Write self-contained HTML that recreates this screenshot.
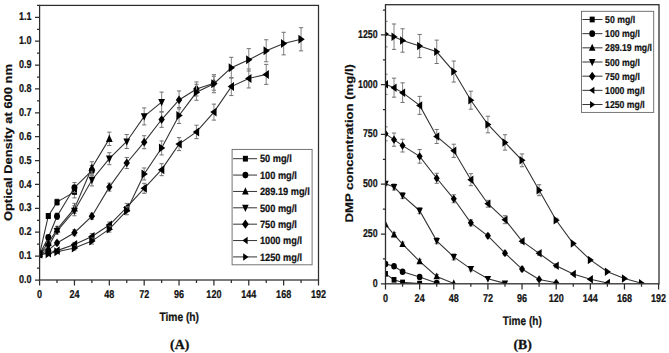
<!DOCTYPE html>
<html><head><meta charset="utf-8"><title>Chart</title>
<style>text{text-rendering:geometricPrecision;}html,body{margin:0;padding:0;background:#fff;width:669px;height:353px;overflow:hidden;}svg{display:block;}</style>
</head><body>
<svg width="669" height="353" viewBox="0 0 669 353">
<rect width="669" height="353" fill="#fff"/>
<defs><clipPath id="ca"><rect x="39.6" y="5.4" width="278.9" height="274.6"/></clipPath><clipPath id="cb"><rect x="385.5" y="4.7" width="273.1" height="279.1"/></clipPath></defs>
<g clip-path="url(#ca)">
<path d="M39.6 254.21 L48.32 216 L57.03 202.15 L74.46 191.88" stroke="#333" stroke-width="1.1" fill="none"/>
<path d="M48.32 214V218" stroke="#8e8e8e" stroke-width="1.1" fill="none"/><path d="M46.22 214H50.42M46.22 218H50.42" stroke="#707070" stroke-width="1" fill="none"/>
<path d="M57.03 199.15V205.15" stroke="#8e8e8e" stroke-width="1.1" fill="none"/><path d="M54.93 199.15H59.13M54.93 205.15H59.13" stroke="#707070" stroke-width="1" fill="none"/>
<path d="M74.46 185.88V197.88" stroke="#8e8e8e" stroke-width="1.1" fill="none"/><path d="M72.36 185.88H76.56M72.36 197.88H76.56" stroke="#707070" stroke-width="1" fill="none"/>
<rect x="37.03" y="251.26" width="5.13" height="5.9" fill="#000"/>
<rect x="45.75" y="213.05" width="5.13" height="5.9" fill="#000"/>
<rect x="54.46" y="199.2" width="5.13" height="5.9" fill="#000"/>
<rect x="71.9" y="188.93" width="5.13" height="5.9" fill="#000"/>
<path d="M39.6 254.21 L48.32 237.49 L57.03 216.24 L74.46 187.58 L91.89 170.63" stroke="#333" stroke-width="1.1" fill="none"/>
<path d="M48.32 235.49V239.49" stroke="#8e8e8e" stroke-width="1.1" fill="none"/><path d="M46.22 235.49H50.42M46.22 239.49H50.42" stroke="#707070" stroke-width="1" fill="none"/>
<path d="M57.03 213.24V219.24" stroke="#8e8e8e" stroke-width="1.1" fill="none"/><path d="M54.93 213.24H59.13M54.93 219.24H59.13" stroke="#707070" stroke-width="1" fill="none"/>
<path d="M74.46 182.58V192.58" stroke="#8e8e8e" stroke-width="1.1" fill="none"/><path d="M72.36 182.58H76.56M72.36 192.58H76.56" stroke="#707070" stroke-width="1" fill="none"/>
<path d="M91.89 165.63V175.63" stroke="#8e8e8e" stroke-width="1.1" fill="none"/><path d="M89.79 165.63H93.99M89.79 175.63H93.99" stroke="#707070" stroke-width="1" fill="none"/>
<ellipse cx="39.6" cy="254.21" rx="2.98" ry="3.42" fill="#000"/>
<ellipse cx="48.32" cy="237.49" rx="2.98" ry="3.42" fill="#000"/>
<ellipse cx="57.03" cy="216.24" rx="2.98" ry="3.42" fill="#000"/>
<ellipse cx="74.46" cy="187.58" rx="2.98" ry="3.42" fill="#000"/>
<ellipse cx="91.89" cy="170.63" rx="2.98" ry="3.42" fill="#000"/>
<path d="M39.6 254.21 L48.32 242.99 L57.03 229.37 L74.46 208.36 L91.89 167.76 L109.32 138.87" stroke="#333" stroke-width="1.1" fill="none"/>
<path d="M48.32 240.99V244.99" stroke="#8e8e8e" stroke-width="1.1" fill="none"/><path d="M46.22 240.99H50.42M46.22 244.99H50.42" stroke="#707070" stroke-width="1" fill="none"/>
<path d="M57.03 226.37V232.37" stroke="#8e8e8e" stroke-width="1.1" fill="none"/><path d="M54.93 226.37H59.13M54.93 232.37H59.13" stroke="#707070" stroke-width="1" fill="none"/>
<path d="M74.46 203.36V213.36" stroke="#8e8e8e" stroke-width="1.1" fill="none"/><path d="M72.36 203.36H76.56M72.36 213.36H76.56" stroke="#707070" stroke-width="1" fill="none"/>
<path d="M91.89 161.76V173.76" stroke="#8e8e8e" stroke-width="1.1" fill="none"/><path d="M89.79 161.76H93.99M89.79 173.76H93.99" stroke="#707070" stroke-width="1" fill="none"/>
<path d="M109.32 132.17V145.57" stroke="#8e8e8e" stroke-width="1.1" fill="none"/><path d="M107.22 132.17H111.42M107.22 145.57H111.42" stroke="#707070" stroke-width="1" fill="none"/>
<polygon points="39.6,249.96 42.99,257.28 36.21,257.28" fill="#000"/>
<polygon points="48.32,238.74 51.7,246.05 44.93,246.05" fill="#000"/>
<polygon points="57.03,225.13 60.42,232.44 53.64,232.44" fill="#000"/>
<polygon points="74.46,204.11 77.85,211.43 71.07,211.43" fill="#000"/>
<polygon points="91.89,163.52 95.28,170.83 88.51,170.83" fill="#000"/>
<polygon points="109.32,134.62 112.71,141.94 105.94,141.94" fill="#000"/>
<path d="M39.6 254.21 L48.32 246.57 L57.03 231.05 L74.46 210.75 L91.89 179.94 L109.32 158.69 L126.76 141.5 L144.19 116.42 L161.62 102.09" stroke="#333" stroke-width="1.1" fill="none"/>
<path d="M48.32 244.57V248.57" stroke="#8e8e8e" stroke-width="1.1" fill="none"/><path d="M46.22 244.57H50.42M46.22 248.57H50.42" stroke="#707070" stroke-width="1" fill="none"/>
<path d="M57.03 228.05V234.05" stroke="#8e8e8e" stroke-width="1.1" fill="none"/><path d="M54.93 228.05H59.13M54.93 234.05H59.13" stroke="#707070" stroke-width="1" fill="none"/>
<path d="M74.46 205.75V215.75" stroke="#8e8e8e" stroke-width="1.1" fill="none"/><path d="M72.36 205.75H76.56M72.36 215.75H76.56" stroke="#707070" stroke-width="1" fill="none"/>
<path d="M91.89 173.94V185.94" stroke="#8e8e8e" stroke-width="1.1" fill="none"/><path d="M89.79 173.94H93.99M89.79 185.94H93.99" stroke="#707070" stroke-width="1" fill="none"/>
<path d="M109.32 152.69V164.69" stroke="#8e8e8e" stroke-width="1.1" fill="none"/><path d="M107.22 152.69H111.42M107.22 164.69H111.42" stroke="#707070" stroke-width="1" fill="none"/>
<path d="M126.76 134.5V148.5" stroke="#8e8e8e" stroke-width="1.1" fill="none"/><path d="M124.66 134.5H128.86M124.66 148.5H128.86" stroke="#707070" stroke-width="1" fill="none"/>
<path d="M144.19 107.92V124.92" stroke="#8e8e8e" stroke-width="1.1" fill="none"/><path d="M142.09 107.92H146.29M142.09 124.92H146.29" stroke="#707070" stroke-width="1" fill="none"/>
<path d="M161.62 92.09V112.09" stroke="#8e8e8e" stroke-width="1.1" fill="none"/><path d="M159.52 92.09H163.72M159.52 112.09H163.72" stroke="#707070" stroke-width="1" fill="none"/>
<polygon points="39.6,258.46 42.99,251.14 36.21,251.14" fill="#000"/>
<polygon points="48.32,250.82 51.7,243.5 44.93,243.5" fill="#000"/>
<polygon points="57.03,235.29 60.42,227.98 53.64,227.98" fill="#000"/>
<polygon points="74.46,215 77.85,207.68 71.07,207.68" fill="#000"/>
<polygon points="91.89,184.19 95.28,176.87 88.51,176.87" fill="#000"/>
<polygon points="109.32,162.94 112.71,155.62 105.94,155.62" fill="#000"/>
<polygon points="126.76,145.74 130.14,138.43 123.37,138.43" fill="#000"/>
<polygon points="144.19,120.67 147.58,113.35 140.8,113.35" fill="#000"/>
<polygon points="161.62,106.34 165.01,99.03 158.23,99.03" fill="#000"/>
<path d="M39.6 254.21 L48.32 250.15 L57.03 242.99 L74.46 232.72 L91.89 216.24 L109.32 187.11 L126.76 162.99 L144.19 142.21 L161.62 119.53 L179.05 99.94 L196.48 88.96 L213.91 83.23" stroke="#333" stroke-width="1.1" fill="none"/>
<path d="M48.32 249.15V251.15" stroke="#8e8e8e" stroke-width="1.1" fill="none"/><path d="M46.22 249.15H50.42M46.22 251.15H50.42" stroke="#707070" stroke-width="1" fill="none"/>
<path d="M57.03 240.99V244.99" stroke="#8e8e8e" stroke-width="1.1" fill="none"/><path d="M54.93 240.99H59.13M54.93 244.99H59.13" stroke="#707070" stroke-width="1" fill="none"/>
<path d="M74.46 229.72V235.72" stroke="#8e8e8e" stroke-width="1.1" fill="none"/><path d="M72.36 229.72H76.56M72.36 235.72H76.56" stroke="#707070" stroke-width="1" fill="none"/>
<path d="M91.89 213.24V219.24" stroke="#8e8e8e" stroke-width="1.1" fill="none"/><path d="M89.79 213.24H93.99M89.79 219.24H93.99" stroke="#707070" stroke-width="1" fill="none"/>
<path d="M109.32 183.11V191.11" stroke="#8e8e8e" stroke-width="1.1" fill="none"/><path d="M107.22 183.11H111.42M107.22 191.11H111.42" stroke="#707070" stroke-width="1" fill="none"/>
<path d="M126.76 157.49V168.49" stroke="#8e8e8e" stroke-width="1.1" fill="none"/><path d="M124.66 157.49H128.86M124.66 168.49H128.86" stroke="#707070" stroke-width="1" fill="none"/>
<path d="M144.19 135.71V148.71" stroke="#8e8e8e" stroke-width="1.1" fill="none"/><path d="M142.09 135.71H146.29M142.09 148.71H146.29" stroke="#707070" stroke-width="1" fill="none"/>
<path d="M161.62 111.73V127.33" stroke="#8e8e8e" stroke-width="1.1" fill="none"/><path d="M159.52 111.73H163.72M159.52 127.33H163.72" stroke="#707070" stroke-width="1" fill="none"/>
<path d="M179.05 90.94V108.94" stroke="#8e8e8e" stroke-width="1.1" fill="none"/><path d="M176.95 90.94H181.15M176.95 108.94H181.15" stroke="#707070" stroke-width="1" fill="none"/>
<path d="M196.48 81.96V95.96" stroke="#8e8e8e" stroke-width="1.1" fill="none"/><path d="M194.38 81.96H198.58M194.38 95.96H198.58" stroke="#707070" stroke-width="1" fill="none"/>
<path d="M213.91 76.23V90.23" stroke="#8e8e8e" stroke-width="1.1" fill="none"/><path d="M211.81 76.23H216.01M211.81 90.23H216.01" stroke="#707070" stroke-width="1" fill="none"/>
<polygon points="39.6,249.84 42.78,254.21 39.6,258.58 36.42,254.21" fill="#000"/>
<polygon points="48.32,245.78 51.5,250.15 48.32,254.52 45.13,250.15" fill="#000"/>
<polygon points="57.03,238.62 60.21,242.99 57.03,247.35 53.85,242.99" fill="#000"/>
<polygon points="74.46,228.35 77.64,232.72 74.46,237.08 71.28,232.72" fill="#000"/>
<polygon points="91.89,211.87 95.08,216.24 91.89,220.61 88.71,216.24" fill="#000"/>
<polygon points="109.32,182.74 112.51,187.11 109.32,191.47 106.14,187.11" fill="#000"/>
<polygon points="126.76,158.62 129.94,162.99 126.76,167.35 123.57,162.99" fill="#000"/>
<polygon points="144.19,137.85 147.37,142.21 144.19,146.58 141.01,142.21" fill="#000"/>
<polygon points="161.62,115.16 164.8,119.53 161.62,123.89 158.44,119.53" fill="#000"/>
<polygon points="179.05,95.58 182.23,99.94 179.05,104.31 175.87,99.94" fill="#000"/>
<polygon points="196.48,84.59 199.66,88.96 196.48,93.33 193.3,88.96" fill="#000"/>
<polygon points="213.91,78.86 217.09,83.23 213.91,87.59 210.73,83.23" fill="#000"/>
<path d="M39.6 254.21 L48.32 253.02 L57.03 250.63 L74.46 244.42 L91.89 236.54 L109.32 225.08 L126.76 207.4 L144.19 188.3 L161.62 169.67 L179.05 144.12 L196.48 131.94 L213.91 112.12 L231.34 86.57 L248.77 78.45 L266.21 74.39" stroke="#333" stroke-width="1.1" fill="none"/>
<path d="M48.32 252.02V254.02" stroke="#8e8e8e" stroke-width="1.1" fill="none"/><path d="M46.22 252.02H50.42M46.22 254.02H50.42" stroke="#707070" stroke-width="1" fill="none"/>
<path d="M57.03 249.63V251.63" stroke="#8e8e8e" stroke-width="1.1" fill="none"/><path d="M54.93 249.63H59.13M54.93 251.63H59.13" stroke="#707070" stroke-width="1" fill="none"/>
<path d="M74.46 242.42V246.42" stroke="#8e8e8e" stroke-width="1.1" fill="none"/><path d="M72.36 242.42H76.56M72.36 246.42H76.56" stroke="#707070" stroke-width="1" fill="none"/>
<path d="M91.89 233.54V239.54" stroke="#8e8e8e" stroke-width="1.1" fill="none"/><path d="M89.79 233.54H93.99M89.79 239.54H93.99" stroke="#707070" stroke-width="1" fill="none"/>
<path d="M109.32 222.08V228.08" stroke="#8e8e8e" stroke-width="1.1" fill="none"/><path d="M107.22 222.08H111.42M107.22 228.08H111.42" stroke="#707070" stroke-width="1" fill="none"/>
<path d="M126.76 203.4V211.4" stroke="#8e8e8e" stroke-width="1.1" fill="none"/><path d="M124.66 203.4H128.86M124.66 211.4H128.86" stroke="#707070" stroke-width="1" fill="none"/>
<path d="M144.19 183.3V193.3" stroke="#8e8e8e" stroke-width="1.1" fill="none"/><path d="M142.09 183.3H146.29M142.09 193.3H146.29" stroke="#707070" stroke-width="1" fill="none"/>
<path d="M161.62 163.67V175.67" stroke="#8e8e8e" stroke-width="1.1" fill="none"/><path d="M159.52 163.67H163.72M159.52 175.67H163.72" stroke="#707070" stroke-width="1" fill="none"/>
<path d="M179.05 137.62V150.62" stroke="#8e8e8e" stroke-width="1.1" fill="none"/><path d="M176.95 137.62H181.15M176.95 150.62H181.15" stroke="#707070" stroke-width="1" fill="none"/>
<path d="M196.48 125.24V138.64" stroke="#8e8e8e" stroke-width="1.1" fill="none"/><path d="M194.38 125.24H198.58M194.38 138.64H198.58" stroke="#707070" stroke-width="1" fill="none"/>
<path d="M213.91 104.12V120.12" stroke="#8e8e8e" stroke-width="1.1" fill="none"/><path d="M211.81 104.12H216.01M211.81 120.12H216.01" stroke="#707070" stroke-width="1" fill="none"/>
<path d="M231.34 77.57V95.57" stroke="#8e8e8e" stroke-width="1.1" fill="none"/><path d="M229.24 77.57H233.44M229.24 95.57H233.44" stroke="#707070" stroke-width="1" fill="none"/>
<path d="M248.77 68.95V87.95" stroke="#8e8e8e" stroke-width="1.1" fill="none"/><path d="M246.67 68.95H250.87M246.67 87.95H250.87" stroke="#707070" stroke-width="1" fill="none"/>
<path d="M266.21 64.39V84.39" stroke="#8e8e8e" stroke-width="1.1" fill="none"/><path d="M264.11 64.39H268.31M264.11 84.39H268.31" stroke="#707070" stroke-width="1" fill="none"/>
<polygon points="35.9,254.21 42.27,249.73 42.27,258.69" fill="#000"/>
<polygon points="44.62,253.02 50.98,248.53 50.98,257.5" fill="#000"/>
<polygon points="53.34,250.63 59.7,246.14 59.7,255.11" fill="#000"/>
<polygon points="70.77,244.42 77.13,239.93 77.13,248.9" fill="#000"/>
<polygon points="88.2,236.54 94.56,232.05 94.56,241.02" fill="#000"/>
<polygon points="105.63,225.08 111.99,220.59 111.99,229.56" fill="#000"/>
<polygon points="123.06,207.4 129.43,202.92 129.43,211.89" fill="#000"/>
<polygon points="140.49,188.3 146.86,183.82 146.86,192.78" fill="#000"/>
<polygon points="157.92,169.67 164.29,165.19 164.29,174.16" fill="#000"/>
<polygon points="175.35,144.12 181.72,139.64 181.72,148.61" fill="#000"/>
<polygon points="192.79,131.94 199.15,127.46 199.15,136.43" fill="#000"/>
<polygon points="210.22,112.12 216.58,107.64 216.58,116.61" fill="#000"/>
<polygon points="227.65,86.57 234.01,82.09 234.01,91.06" fill="#000"/>
<polygon points="245.08,78.45 251.44,73.97 251.44,82.94" fill="#000"/>
<polygon points="262.51,74.39 268.88,69.91 268.88,78.88" fill="#000"/>
<path d="M39.6 254.21 L48.32 253.73 L57.03 251.82 L74.46 248 L91.89 241.08 L109.32 229.14 L126.76 210.75 L144.19 173.97 L161.62 147.94 L179.05 115.47 L196.48 92.3 L213.91 83.71 L231.34 67.71 L248.77 59.83 L266.21 50.75 L283.64 43.59 L301.07 39.29" stroke="#333" stroke-width="1.1" fill="none"/>
<path d="M48.32 252.73V254.73" stroke="#8e8e8e" stroke-width="1.1" fill="none"/><path d="M46.22 252.73H50.42M46.22 254.73H50.42" stroke="#707070" stroke-width="1" fill="none"/>
<path d="M57.03 250.82V252.82" stroke="#8e8e8e" stroke-width="1.1" fill="none"/><path d="M54.93 250.82H59.13M54.93 252.82H59.13" stroke="#707070" stroke-width="1" fill="none"/>
<path d="M74.46 246V250" stroke="#8e8e8e" stroke-width="1.1" fill="none"/><path d="M72.36 246H76.56M72.36 250H76.56" stroke="#707070" stroke-width="1" fill="none"/>
<path d="M91.89 238.08V244.08" stroke="#8e8e8e" stroke-width="1.1" fill="none"/><path d="M89.79 238.08H93.99M89.79 244.08H93.99" stroke="#707070" stroke-width="1" fill="none"/>
<path d="M109.32 226.14V232.14" stroke="#8e8e8e" stroke-width="1.1" fill="none"/><path d="M107.22 226.14H111.42M107.22 232.14H111.42" stroke="#707070" stroke-width="1" fill="none"/>
<path d="M126.76 206.75V214.75" stroke="#8e8e8e" stroke-width="1.1" fill="none"/><path d="M124.66 206.75H128.86M124.66 214.75H128.86" stroke="#707070" stroke-width="1" fill="none"/>
<path d="M144.19 167.97V179.97" stroke="#8e8e8e" stroke-width="1.1" fill="none"/><path d="M142.09 167.97H146.29M142.09 179.97H146.29" stroke="#707070" stroke-width="1" fill="none"/>
<path d="M161.62 140.94V154.94" stroke="#8e8e8e" stroke-width="1.1" fill="none"/><path d="M159.52 140.94H163.72M159.52 154.94H163.72" stroke="#707070" stroke-width="1" fill="none"/>
<path d="M179.05 107.47V123.47" stroke="#8e8e8e" stroke-width="1.1" fill="none"/><path d="M176.95 107.47H181.15M176.95 123.47H181.15" stroke="#707070" stroke-width="1" fill="none"/>
<path d="M196.48 84.3V100.3" stroke="#8e8e8e" stroke-width="1.1" fill="none"/><path d="M194.38 84.3H198.58M194.38 100.3H198.58" stroke="#707070" stroke-width="1" fill="none"/>
<path d="M213.91 74.71V92.71" stroke="#8e8e8e" stroke-width="1.1" fill="none"/><path d="M211.81 74.71H216.01M211.81 92.71H216.01" stroke="#707070" stroke-width="1" fill="none"/>
<path d="M231.34 57.31V78.11" stroke="#8e8e8e" stroke-width="1.1" fill="none"/><path d="M229.24 57.31H233.44M229.24 78.11H233.44" stroke="#707070" stroke-width="1" fill="none"/>
<path d="M248.77 48.63V71.03" stroke="#8e8e8e" stroke-width="1.1" fill="none"/><path d="M246.67 48.63H250.87M246.67 71.03H250.87" stroke="#707070" stroke-width="1" fill="none"/>
<path d="M266.21 39.75V61.75" stroke="#8e8e8e" stroke-width="1.1" fill="none"/><path d="M264.11 39.75H268.31M264.11 61.75H268.31" stroke="#707070" stroke-width="1" fill="none"/>
<path d="M283.64 32.29V54.89" stroke="#8e8e8e" stroke-width="1.1" fill="none"/><path d="M281.54 32.29H285.74M281.54 54.89H285.74" stroke="#707070" stroke-width="1" fill="none"/>
<path d="M301.07 27.69V50.89" stroke="#8e8e8e" stroke-width="1.1" fill="none"/><path d="M298.97 27.69H303.17M298.97 50.89H303.17" stroke="#707070" stroke-width="1" fill="none"/>
<polygon points="43.3,254.21 36.93,249.73 36.93,258.69" fill="#000"/>
<polygon points="52.01,253.73 45.65,249.25 45.65,258.22" fill="#000"/>
<polygon points="60.73,251.82 54.36,247.34 54.36,256.31" fill="#000"/>
<polygon points="78.16,248 71.79,243.52 71.79,252.48" fill="#000"/>
<polygon points="95.59,241.08 89.22,236.59 89.22,245.56" fill="#000"/>
<polygon points="113.02,229.14 106.66,224.65 106.66,233.62" fill="#000"/>
<polygon points="130.45,210.75 124.09,206.26 124.09,215.23" fill="#000"/>
<polygon points="147.88,173.97 141.52,169.49 141.52,178.46" fill="#000"/>
<polygon points="165.31,147.94 158.95,143.46 158.95,152.43" fill="#000"/>
<polygon points="182.75,115.47 176.38,110.98 176.38,119.95" fill="#000"/>
<polygon points="200.18,92.3 193.81,87.82 193.81,96.79" fill="#000"/>
<polygon points="217.61,83.71 211.24,79.22 211.24,88.19" fill="#000"/>
<polygon points="235.04,67.71 228.67,63.22 228.67,72.19" fill="#000"/>
<polygon points="252.47,59.83 246.11,55.34 246.11,64.31" fill="#000"/>
<polygon points="269.9,50.75 263.54,46.27 263.54,55.24" fill="#000"/>
<polygon points="287.33,43.59 280.97,39.1 280.97,48.07" fill="#000"/>
<polygon points="304.76,39.29 298.4,34.81 298.4,43.77" fill="#000"/>
</g>
<rect x="39.6" y="5.4" width="278.9" height="274.6" fill="none" stroke="#2e2e2e" stroke-width="1.25"/>
<path d="M35 280H39.6M37 268.06H39.6M35 256.12H39.6M37 244.18H39.6M35 232.24H39.6M37 220.3H39.6M35 208.36H39.6M37 196.42H39.6M35 184.48H39.6M37 172.54H39.6M35 160.6H39.6M37 148.66H39.6M35 136.72H39.6M37 124.78H39.6M35 112.84H39.6M37 100.9H39.6M35 88.96H39.6M37 77.02H39.6M35 65.08H39.6M37 53.14H39.6M35 41.2H39.6M37 29.26H39.6M35 17.32H39.6M37 5.38H39.6M39.6 280V285.5M57.03 280V283M74.46 280V285.5M91.89 280V283M109.32 280V285.5M126.76 280V283M144.19 280V285.5M161.62 280V283M179.05 280V285.5M196.48 280V283M213.91 280V285.5M231.34 280V283M248.77 280V285.5M266.21 280V283M283.64 280V285.5M301.07 280V283M318.5 280V285.5" stroke="#2e2e2e" stroke-width="1.25" fill="none"/>
<text transform="translate(31.6 283.1) scale(0.8 1)" font-size="11.3" text-anchor="end" font-family="'Liberation Sans', sans-serif" font-weight="bold" stroke="#111" stroke-width="0.22" fill="#111">0.0</text>
<text transform="translate(31.6 259.22) scale(0.8 1)" font-size="11.3" text-anchor="end" font-family="'Liberation Sans', sans-serif" font-weight="bold" stroke="#111" stroke-width="0.22" fill="#111">0.1</text>
<text transform="translate(31.6 235.34) scale(0.8 1)" font-size="11.3" text-anchor="end" font-family="'Liberation Sans', sans-serif" font-weight="bold" stroke="#111" stroke-width="0.22" fill="#111">0.2</text>
<text transform="translate(31.6 211.46) scale(0.8 1)" font-size="11.3" text-anchor="end" font-family="'Liberation Sans', sans-serif" font-weight="bold" stroke="#111" stroke-width="0.22" fill="#111">0.3</text>
<text transform="translate(31.6 187.58) scale(0.8 1)" font-size="11.3" text-anchor="end" font-family="'Liberation Sans', sans-serif" font-weight="bold" stroke="#111" stroke-width="0.22" fill="#111">0.4</text>
<text transform="translate(31.6 163.7) scale(0.8 1)" font-size="11.3" text-anchor="end" font-family="'Liberation Sans', sans-serif" font-weight="bold" stroke="#111" stroke-width="0.22" fill="#111">0.5</text>
<text transform="translate(31.6 139.82) scale(0.8 1)" font-size="11.3" text-anchor="end" font-family="'Liberation Sans', sans-serif" font-weight="bold" stroke="#111" stroke-width="0.22" fill="#111">0.6</text>
<text transform="translate(31.6 115.94) scale(0.8 1)" font-size="11.3" text-anchor="end" font-family="'Liberation Sans', sans-serif" font-weight="bold" stroke="#111" stroke-width="0.22" fill="#111">0.7</text>
<text transform="translate(31.6 92.06) scale(0.8 1)" font-size="11.3" text-anchor="end" font-family="'Liberation Sans', sans-serif" font-weight="bold" stroke="#111" stroke-width="0.22" fill="#111">0.8</text>
<text transform="translate(31.6 68.18) scale(0.8 1)" font-size="11.3" text-anchor="end" font-family="'Liberation Sans', sans-serif" font-weight="bold" stroke="#111" stroke-width="0.22" fill="#111">0.9</text>
<text transform="translate(31.6 44.3) scale(0.8 1)" font-size="11.3" text-anchor="end" font-family="'Liberation Sans', sans-serif" font-weight="bold" stroke="#111" stroke-width="0.22" fill="#111">1.0</text>
<text transform="translate(31.6 20.42) scale(0.8 1)" font-size="11.3" text-anchor="end" font-family="'Liberation Sans', sans-serif" font-weight="bold" stroke="#111" stroke-width="0.22" fill="#111">1.1</text>
<text transform="translate(39.6 297.9) scale(0.8 1)" font-size="11.3" text-anchor="middle" font-family="'Liberation Sans', sans-serif" font-weight="bold" stroke="#111" stroke-width="0.22" fill="#111">0</text>
<text transform="translate(74.46 297.9) scale(0.8 1)" font-size="11.3" text-anchor="middle" font-family="'Liberation Sans', sans-serif" font-weight="bold" stroke="#111" stroke-width="0.22" fill="#111">24</text>
<text transform="translate(109.32 297.9) scale(0.8 1)" font-size="11.3" text-anchor="middle" font-family="'Liberation Sans', sans-serif" font-weight="bold" stroke="#111" stroke-width="0.22" fill="#111">48</text>
<text transform="translate(144.19 297.9) scale(0.8 1)" font-size="11.3" text-anchor="middle" font-family="'Liberation Sans', sans-serif" font-weight="bold" stroke="#111" stroke-width="0.22" fill="#111">72</text>
<text transform="translate(179.05 297.9) scale(0.8 1)" font-size="11.3" text-anchor="middle" font-family="'Liberation Sans', sans-serif" font-weight="bold" stroke="#111" stroke-width="0.22" fill="#111">96</text>
<text transform="translate(213.91 297.9) scale(0.8 1)" font-size="11.3" text-anchor="middle" font-family="'Liberation Sans', sans-serif" font-weight="bold" stroke="#111" stroke-width="0.22" fill="#111">120</text>
<text transform="translate(248.77 297.9) scale(0.8 1)" font-size="11.3" text-anchor="middle" font-family="'Liberation Sans', sans-serif" font-weight="bold" stroke="#111" stroke-width="0.22" fill="#111">144</text>
<text transform="translate(283.64 297.9) scale(0.8 1)" font-size="11.3" text-anchor="middle" font-family="'Liberation Sans', sans-serif" font-weight="bold" stroke="#111" stroke-width="0.22" fill="#111">168</text>
<text transform="translate(318.5 297.9) scale(0.8 1)" font-size="11.3" text-anchor="middle" font-family="'Liberation Sans', sans-serif" font-weight="bold" stroke="#111" stroke-width="0.22" fill="#111">192</text>
<text transform="translate(179.2 320.8) scale(0.84 1)" font-size="12.2" text-anchor="middle" font-family="'Liberation Sans', sans-serif" font-weight="bold" stroke="#111" stroke-width="0.22" fill="#111">Time (h)</text>
<text transform="translate(11.8 142.6) rotate(-90) scale(1 0.87)" font-size="12.9" text-anchor="middle" font-family="'Liberation Sans', sans-serif" font-weight="bold" stroke="#111" stroke-width="0.22" fill="#111">Optical Density at 600 nm</text>
<rect x="232.1" y="149.4" width="80" height="115.4" fill="#fff" stroke="#666" stroke-width="0.9"/>
<path d="M233.1 158.7H257.1" stroke="#333" stroke-width="1"/>
<rect x="242.9" y="155.82" width="5" height="5.75" fill="#000"/>
<text transform="translate(259.9 162.4) scale(0.88 1)" font-size="10.5" text-anchor="start" font-family="'Liberation Sans', sans-serif" font-weight="bold" stroke="#111" stroke-width="0.22" fill="#111">50 mg/l</text>
<path d="M233.1 175.07H257.1" stroke="#333" stroke-width="1"/>
<ellipse cx="245.4" cy="175.07" rx="2.9" ry="3.33" fill="#000"/>
<text transform="translate(259.9 178.77) scale(0.88 1)" font-size="10.5" text-anchor="start" font-family="'Liberation Sans', sans-serif" font-weight="bold" stroke="#111" stroke-width="0.22" fill="#111">100 mg/l</text>
<path d="M233.1 191.44H257.1" stroke="#333" stroke-width="1"/>
<polygon points="245.4,187.3 248.7,194.43 242.1,194.43" fill="#000"/>
<text transform="translate(259.9 195.14) scale(0.88 1)" font-size="10.5" text-anchor="start" font-family="'Liberation Sans', sans-serif" font-weight="bold" stroke="#111" stroke-width="0.22" fill="#111">289.19 mg/l</text>
<path d="M233.1 207.81H257.1" stroke="#333" stroke-width="1"/>
<polygon points="245.4,211.95 248.7,204.82 242.1,204.82" fill="#000"/>
<text transform="translate(259.9 211.51) scale(0.88 1)" font-size="10.5" text-anchor="start" font-family="'Liberation Sans', sans-serif" font-weight="bold" stroke="#111" stroke-width="0.22" fill="#111">500 mg/l</text>
<path d="M233.1 224.18H257.1" stroke="#333" stroke-width="1"/>
<polygon points="245.4,219.56 248.77,224.18 245.4,228.81 242.03,224.18" fill="#000"/>
<text transform="translate(259.9 227.88) scale(0.88 1)" font-size="10.5" text-anchor="start" font-family="'Liberation Sans', sans-serif" font-weight="bold" stroke="#111" stroke-width="0.22" fill="#111">750 mg/l</text>
<path d="M233.1 240.55H257.1" stroke="#333" stroke-width="1"/>
<polygon points="242.33,240.55 247.62,236.83 247.62,244.27" fill="#000"/>
<text transform="translate(259.9 244.25) scale(0.88 1)" font-size="10.5" text-anchor="start" font-family="'Liberation Sans', sans-serif" font-weight="bold" stroke="#111" stroke-width="0.22" fill="#111">1000 mg/l</text>
<path d="M233.1 256.92H257.1" stroke="#333" stroke-width="1"/>
<polygon points="248.47,256.92 243.18,253.2 243.18,260.64" fill="#000"/>
<text transform="translate(259.9 260.62) scale(0.88 1)" font-size="10.5" text-anchor="start" font-family="'Liberation Sans', sans-serif" font-weight="bold" stroke="#111" stroke-width="0.22" fill="#111">1250 mg/l</text>
<g clip-path="url(#cb)">
<path d="M385.5 273.84 L394.03 279.82 L402.57 282.41 L419.64 283.6 L436.71 283.8" stroke="#333" stroke-width="1.1" fill="none"/>
<rect x="383.06" y="271.04" width="4.87" height="5.6" fill="#000"/>
<rect x="391.6" y="277.02" width="4.87" height="5.6" fill="#000"/>
<rect x="400.13" y="279.61" width="4.87" height="5.6" fill="#000"/>
<rect x="417.2" y="280.8" width="4.87" height="5.6" fill="#000"/>
<rect x="434.27" y="281" width="4.87" height="5.6" fill="#000"/>
<path d="M385.5 263.89 L394.03 266.28 L402.57 271.65 L419.64 277.03 L436.71 283" stroke="#333" stroke-width="1.1" fill="none"/>
<ellipse cx="385.5" cy="263.89" rx="2.83" ry="3.25" fill="#000"/>
<ellipse cx="394.03" cy="266.28" rx="2.83" ry="3.25" fill="#000"/>
<ellipse cx="402.57" cy="271.65" rx="2.83" ry="3.25" fill="#000"/>
<ellipse cx="419.64" cy="277.03" rx="2.83" ry="3.25" fill="#000"/>
<ellipse cx="436.71" cy="283" rx="2.83" ry="3.25" fill="#000"/>
<path d="M385.5 224.46 L394.03 234.62 L402.57 244.18 L419.64 261.3 L436.71 276.43 L453.77 283.4" stroke="#333" stroke-width="1.1" fill="none"/>
<path d="M394.03 232.62V236.62" stroke="#8e8e8e" stroke-width="1.1" fill="none"/><path d="M391.93 232.62H396.13M391.93 236.62H396.13" stroke="#707070" stroke-width="1" fill="none"/>
<path d="M402.57 242.18V246.18" stroke="#8e8e8e" stroke-width="1.1" fill="none"/><path d="M400.47 242.18H404.67M400.47 246.18H404.67" stroke="#707070" stroke-width="1" fill="none"/>
<path d="M419.64 259.3V263.3" stroke="#8e8e8e" stroke-width="1.1" fill="none"/><path d="M417.54 259.3H421.74M417.54 263.3H421.74" stroke="#707070" stroke-width="1" fill="none"/>
<path d="M436.71 274.43V278.43" stroke="#8e8e8e" stroke-width="1.1" fill="none"/><path d="M434.61 274.43H438.81M434.61 278.43H438.81" stroke="#707070" stroke-width="1" fill="none"/>
<polygon points="385.5,220.43 388.72,227.37 382.28,227.37" fill="#000"/>
<polygon points="394.03,230.59 397.25,237.53 390.82,237.53" fill="#000"/>
<polygon points="402.57,240.14 405.78,247.09 399.35,247.09" fill="#000"/>
<polygon points="419.64,257.27 422.85,264.21 416.42,264.21" fill="#000"/>
<polygon points="436.71,272.4 439.92,279.34 433.49,279.34" fill="#000"/>
<polygon points="453.77,279.37 456.99,286.31 450.56,286.31" fill="#000"/>
<path d="M385.5 183.64 L394.03 187.03 L402.57 195.59 L419.64 210.72 L436.71 240.79 L453.77 256.92 L470.84 268.87 L487.91 278.82 L504.98 283.4" stroke="#333" stroke-width="1.1" fill="none"/>
<path d="M385.5 181.64V185.64" stroke="#8e8e8e" stroke-width="1.1" fill="none"/><path d="M383.4 181.64H387.6M383.4 185.64H387.6" stroke="#707070" stroke-width="1" fill="none"/>
<path d="M394.03 184.03V190.03" stroke="#8e8e8e" stroke-width="1.1" fill="none"/><path d="M391.93 184.03H396.13M391.93 190.03H396.13" stroke="#707070" stroke-width="1" fill="none"/>
<path d="M402.57 192.59V198.59" stroke="#8e8e8e" stroke-width="1.1" fill="none"/><path d="M400.47 192.59H404.67M400.47 198.59H404.67" stroke="#707070" stroke-width="1" fill="none"/>
<path d="M419.64 207.72V213.72" stroke="#8e8e8e" stroke-width="1.1" fill="none"/><path d="M417.54 207.72H421.74M417.54 213.72H421.74" stroke="#707070" stroke-width="1" fill="none"/>
<path d="M436.71 237.79V243.79" stroke="#8e8e8e" stroke-width="1.1" fill="none"/><path d="M434.61 237.79H438.81M434.61 243.79H438.81" stroke="#707070" stroke-width="1" fill="none"/>
<path d="M453.77 253.92V259.92" stroke="#8e8e8e" stroke-width="1.1" fill="none"/><path d="M451.67 253.92H455.88M451.67 259.92H455.88" stroke="#707070" stroke-width="1" fill="none"/>
<path d="M470.84 266.87V270.87" stroke="#8e8e8e" stroke-width="1.1" fill="none"/><path d="M468.74 266.87H472.94M468.74 270.87H472.94" stroke="#707070" stroke-width="1" fill="none"/>
<polygon points="385.5,187.67 388.72,180.73 382.28,180.73" fill="#000"/>
<polygon points="394.03,191.06 397.25,184.12 390.82,184.12" fill="#000"/>
<polygon points="402.57,199.62 405.78,192.68 399.35,192.68" fill="#000"/>
<polygon points="419.64,214.75 422.85,207.81 416.42,207.81" fill="#000"/>
<polygon points="436.71,244.82 439.92,237.88 433.49,237.88" fill="#000"/>
<polygon points="453.77,260.95 456.99,254.01 450.56,254.01" fill="#000"/>
<polygon points="470.84,272.9 474.06,265.95 467.63,265.95" fill="#000"/>
<polygon points="487.91,282.85 491.13,275.91 484.7,275.91" fill="#000"/>
<polygon points="504.98,287.43 508.2,280.49 501.77,280.49" fill="#000"/>
<path d="M385.5 133.86 L394.03 139.64 L402.57 145.61 L419.64 156.36 L436.71 178.27 L453.77 198.78 L470.84 222.87 L487.91 235.81 L504.98 253.14 L522.05 269.07 L539.12 279.42 L556.19 282.8" stroke="#333" stroke-width="1.1" fill="none"/>
<path d="M385.5 126.86V140.86" stroke="#8e8e8e" stroke-width="1.1" fill="none"/><path d="M383.4 126.86H387.6M383.4 140.86H387.6" stroke="#707070" stroke-width="1" fill="none"/>
<path d="M394.03 133.04V146.24" stroke="#8e8e8e" stroke-width="1.1" fill="none"/><path d="M391.93 133.04H396.13M391.93 146.24H396.13" stroke="#707070" stroke-width="1" fill="none"/>
<path d="M402.57 139.21V152.01" stroke="#8e8e8e" stroke-width="1.1" fill="none"/><path d="M400.47 139.21H404.67M400.47 152.01H404.67" stroke="#707070" stroke-width="1" fill="none"/>
<path d="M419.64 149.56V163.16" stroke="#8e8e8e" stroke-width="1.1" fill="none"/><path d="M417.54 149.56H421.74M417.54 163.16H421.74" stroke="#707070" stroke-width="1" fill="none"/>
<path d="M436.71 173.27V183.27" stroke="#8e8e8e" stroke-width="1.1" fill="none"/><path d="M434.61 173.27H438.81M434.61 183.27H438.81" stroke="#707070" stroke-width="1" fill="none"/>
<path d="M453.77 194.78V202.78" stroke="#8e8e8e" stroke-width="1.1" fill="none"/><path d="M451.67 194.78H455.88M451.67 202.78H455.88" stroke="#707070" stroke-width="1" fill="none"/>
<path d="M470.84 219.87V225.87" stroke="#8e8e8e" stroke-width="1.1" fill="none"/><path d="M468.74 219.87H472.94M468.74 225.87H472.94" stroke="#707070" stroke-width="1" fill="none"/>
<path d="M487.91 233.81V237.81" stroke="#8e8e8e" stroke-width="1.1" fill="none"/><path d="M485.81 233.81H490.01M485.81 237.81H490.01" stroke="#707070" stroke-width="1" fill="none"/>
<path d="M504.98 251.14V255.14" stroke="#8e8e8e" stroke-width="1.1" fill="none"/><path d="M502.88 251.14H507.08M502.88 255.14H507.08" stroke="#707070" stroke-width="1" fill="none"/>
<path d="M522.05 267.07V271.07" stroke="#8e8e8e" stroke-width="1.1" fill="none"/><path d="M519.95 267.07H524.15M519.95 271.07H524.15" stroke="#707070" stroke-width="1" fill="none"/>
<polygon points="385.5,129.72 388.52,133.86 385.5,138.01 382.48,133.86" fill="#000"/>
<polygon points="394.03,135.49 397.06,139.64 394.03,143.78 391.01,139.64" fill="#000"/>
<polygon points="402.57,141.47 405.59,145.61 402.57,149.75 399.55,145.61" fill="#000"/>
<polygon points="419.64,152.22 422.66,156.36 419.64,160.51 416.62,156.36" fill="#000"/>
<polygon points="436.71,174.12 439.73,178.27 436.71,182.41 433.69,178.27" fill="#000"/>
<polygon points="453.77,194.63 456.8,198.78 453.77,202.92 450.75,198.78" fill="#000"/>
<polygon points="470.84,218.73 473.86,222.87 470.84,227.01 467.82,222.87" fill="#000"/>
<polygon points="487.91,231.67 490.93,235.81 487.91,239.96 484.89,235.81" fill="#000"/>
<polygon points="504.98,248.99 508,253.14 504.98,257.28 501.96,253.14" fill="#000"/>
<polygon points="522.05,264.92 525.07,269.07 522.05,273.21 519.03,269.07" fill="#000"/>
<polygon points="539.12,275.28 542.14,279.42 539.12,283.56 536.1,279.42" fill="#000"/>
<polygon points="556.19,278.66 559.21,282.8 556.19,286.95 553.17,282.8" fill="#000"/>
<path d="M385.5 84.28 L394.03 87.67 L402.57 92.64 L419.64 105.39 L436.71 136.45 L453.77 150.79 L470.84 179.66 L487.91 203.75 L504.98 219.68 L522.05 241.19 L539.12 253.33 L556.19 265.68 L573.26 274.04 L590.33 279.22 L607.39 283" stroke="#333" stroke-width="1.1" fill="none"/>
<path d="M385.5 74.18V94.38" stroke="#8e8e8e" stroke-width="1.1" fill="none"/><path d="M383.4 74.18H387.6M383.4 94.38H387.6" stroke="#707070" stroke-width="1" fill="none"/>
<path d="M394.03 78.17V97.17" stroke="#8e8e8e" stroke-width="1.1" fill="none"/><path d="M391.93 78.17H396.13M391.93 97.17H396.13" stroke="#707070" stroke-width="1" fill="none"/>
<path d="M402.57 82.84V102.44" stroke="#8e8e8e" stroke-width="1.1" fill="none"/><path d="M400.47 82.84H404.67M400.47 102.44H404.67" stroke="#707070" stroke-width="1" fill="none"/>
<path d="M419.64 96.39V114.39" stroke="#8e8e8e" stroke-width="1.1" fill="none"/><path d="M417.54 96.39H421.74M417.54 114.39H421.74" stroke="#707070" stroke-width="1" fill="none"/>
<path d="M436.71 129.45V143.45" stroke="#8e8e8e" stroke-width="1.1" fill="none"/><path d="M434.61 129.45H438.81M434.61 143.45H438.81" stroke="#707070" stroke-width="1" fill="none"/>
<path d="M453.77 144.19V157.39" stroke="#8e8e8e" stroke-width="1.1" fill="none"/><path d="M451.67 144.19H455.88M451.67 157.39H455.88" stroke="#707070" stroke-width="1" fill="none"/>
<path d="M470.84 173.66V185.66" stroke="#8e8e8e" stroke-width="1.1" fill="none"/><path d="M468.74 173.66H472.94M468.74 185.66H472.94" stroke="#707070" stroke-width="1" fill="none"/>
<path d="M487.91 200.35V207.15" stroke="#8e8e8e" stroke-width="1.1" fill="none"/><path d="M485.81 200.35H490.01M485.81 207.15H490.01" stroke="#707070" stroke-width="1" fill="none"/>
<path d="M504.98 215.68V223.68" stroke="#8e8e8e" stroke-width="1.1" fill="none"/><path d="M502.88 215.68H507.08M502.88 223.68H507.08" stroke="#707070" stroke-width="1" fill="none"/>
<path d="M522.05 239.19V243.19" stroke="#8e8e8e" stroke-width="1.1" fill="none"/><path d="M519.95 239.19H524.15M519.95 243.19H524.15" stroke="#707070" stroke-width="1" fill="none"/>
<path d="M539.12 251.33V255.33" stroke="#8e8e8e" stroke-width="1.1" fill="none"/><path d="M537.02 251.33H541.22M537.02 255.33H541.22" stroke="#707070" stroke-width="1" fill="none"/>
<path d="M556.19 263.68V267.68" stroke="#8e8e8e" stroke-width="1.1" fill="none"/><path d="M554.09 263.68H558.29M554.09 267.68H558.29" stroke="#707070" stroke-width="1" fill="none"/>
<polygon points="381.99,84.28 388.03,80.03 388.03,88.54" fill="#000"/>
<polygon points="390.53,87.67 396.57,83.41 396.57,91.92" fill="#000"/>
<polygon points="399.06,92.64 405.1,88.39 405.1,96.9" fill="#000"/>
<polygon points="416.13,105.39 422.17,101.13 422.17,109.64" fill="#000"/>
<polygon points="433.2,136.45 439.24,132.2 439.24,140.71" fill="#000"/>
<polygon points="450.27,150.79 456.31,146.53 456.31,155.04" fill="#000"/>
<polygon points="467.34,179.66 473.38,175.4 473.38,183.92" fill="#000"/>
<polygon points="484.4,203.75 490.45,199.5 490.45,208.01" fill="#000"/>
<polygon points="501.47,219.68 507.51,215.43 507.51,223.94" fill="#000"/>
<polygon points="518.54,241.19 524.58,236.93 524.58,245.44" fill="#000"/>
<polygon points="535.61,253.33 541.65,249.08 541.65,257.59" fill="#000"/>
<polygon points="552.68,265.68 558.72,261.42 558.72,269.94" fill="#000"/>
<polygon points="569.75,274.04 575.79,269.79 575.79,278.3" fill="#000"/>
<polygon points="586.82,279.22 592.86,274.96 592.86,283.48" fill="#000"/>
<polygon points="603.89,283 609.93,278.75 609.93,287.26" fill="#000"/>
<path d="M385.5 34.1 L394.03 36.69 L402.57 40.48 L419.64 46.05 L436.71 51.83 L453.77 71.54 L470.84 100.21 L487.91 124.5 L504.98 142.42 L522.05 160.35 L539.12 190.21 L556.19 220.28 L573.26 243.58 L590.33 259.91 L607.39 271.65 L624.46 278.42 L641.53 283.2" stroke="#333" stroke-width="1.1" fill="none"/>
<path d="M385.5 21.3V46.9" stroke="#8e8e8e" stroke-width="1.1" fill="none"/><path d="M383.4 21.3H387.6M383.4 46.9H387.6" stroke="#707070" stroke-width="1" fill="none"/>
<path d="M394.03 23.99V49.39" stroke="#8e8e8e" stroke-width="1.1" fill="none"/><path d="M391.93 23.99H396.13M391.93 49.39H396.13" stroke="#707070" stroke-width="1" fill="none"/>
<path d="M402.57 28.78V52.18" stroke="#8e8e8e" stroke-width="1.1" fill="none"/><path d="M400.47 28.78H404.67M400.47 52.18H404.67" stroke="#707070" stroke-width="1" fill="none"/>
<path d="M419.64 34.45V57.65" stroke="#8e8e8e" stroke-width="1.1" fill="none"/><path d="M417.54 34.45H421.74M417.54 57.65H421.74" stroke="#707070" stroke-width="1" fill="none"/>
<path d="M436.71 40.13V63.53" stroke="#8e8e8e" stroke-width="1.1" fill="none"/><path d="M434.61 40.13H438.81M434.61 63.53H438.81" stroke="#707070" stroke-width="1" fill="none"/>
<path d="M453.77 61.04V82.04" stroke="#8e8e8e" stroke-width="1.1" fill="none"/><path d="M451.67 61.04H455.88M451.67 82.04H455.88" stroke="#707070" stroke-width="1" fill="none"/>
<path d="M470.84 91.21V109.21" stroke="#8e8e8e" stroke-width="1.1" fill="none"/><path d="M468.74 91.21H472.94M468.74 109.21H472.94" stroke="#707070" stroke-width="1" fill="none"/>
<path d="M487.91 116.2V132.8" stroke="#8e8e8e" stroke-width="1.1" fill="none"/><path d="M485.81 116.2H490.01M485.81 132.8H490.01" stroke="#707070" stroke-width="1" fill="none"/>
<path d="M504.98 134.72V150.12" stroke="#8e8e8e" stroke-width="1.1" fill="none"/><path d="M502.88 134.72H507.08M502.88 150.12H507.08" stroke="#707070" stroke-width="1" fill="none"/>
<path d="M522.05 153.95V166.75" stroke="#8e8e8e" stroke-width="1.1" fill="none"/><path d="M519.95 153.95H524.15M519.95 166.75H524.15" stroke="#707070" stroke-width="1" fill="none"/>
<path d="M539.12 184.71V195.71" stroke="#8e8e8e" stroke-width="1.1" fill="none"/><path d="M537.02 184.71H541.22M537.02 195.71H541.22" stroke="#707070" stroke-width="1" fill="none"/>
<path d="M556.19 218.28V222.28" stroke="#8e8e8e" stroke-width="1.1" fill="none"/><path d="M554.09 218.28H558.29M554.09 222.28H558.29" stroke="#707070" stroke-width="1" fill="none"/>
<polygon points="389.01,34.1 382.97,29.85 382.97,38.36" fill="#000"/>
<polygon points="397.54,36.69 391.5,32.44 391.5,40.95" fill="#000"/>
<polygon points="406.08,40.48 400.04,36.22 400.04,44.73" fill="#000"/>
<polygon points="423.15,46.05 417.1,41.79 417.1,50.31" fill="#000"/>
<polygon points="440.21,51.83 434.17,47.57 434.17,56.08" fill="#000"/>
<polygon points="457.28,71.54 451.24,67.28 451.24,75.79" fill="#000"/>
<polygon points="474.35,100.21 468.31,95.96 468.31,104.47" fill="#000"/>
<polygon points="491.42,124.5 485.38,120.25 485.38,128.76" fill="#000"/>
<polygon points="508.49,142.42 502.45,138.17 502.45,146.68" fill="#000"/>
<polygon points="525.56,160.35 519.52,156.09 519.52,164.6" fill="#000"/>
<polygon points="542.63,190.21 536.59,185.96 536.59,194.47" fill="#000"/>
<polygon points="559.7,220.28 553.65,216.02 553.65,224.54" fill="#000"/>
<polygon points="576.76,243.58 570.72,239.32 570.72,247.83" fill="#000"/>
<polygon points="593.83,259.91 587.79,255.65 587.79,264.16" fill="#000"/>
<polygon points="610.9,271.65 604.86,267.4 604.86,275.91" fill="#000"/>
<polygon points="627.97,278.42 621.93,274.17 621.93,282.68" fill="#000"/>
<polygon points="645.04,283.2 639,278.95 639,287.46" fill="#000"/>
</g>
<rect x="385.5" y="4.7" width="273.5" height="279.1" fill="none" stroke="#2e2e2e" stroke-width="1.3"/>
<path d="M380.9 283.8H385.5M382.9 258.91H385.5M380.9 234.02H385.5M382.9 209.13H385.5M380.9 184.24H385.5M382.9 159.35H385.5M380.9 134.46H385.5M382.9 109.57H385.5M380.9 84.68H385.5M382.9 59.79H385.5M380.9 34.9H385.5M382.9 10.01H385.5M385.5 283.8V289.5M402.57 283.8V286.8M419.64 283.8V289.5M436.71 283.8V286.8M453.77 283.8V289.5M470.84 283.8V286.8M487.91 283.8V289.5M504.98 283.8V286.8M522.05 283.8V289.5M539.12 283.8V286.8M556.19 283.8V289.5M573.26 283.8V286.8M590.33 283.8V289.5M607.39 283.8V286.8M624.46 283.8V289.5M641.53 283.8V286.8M658.6 283.8V289.5" stroke="#2e2e2e" stroke-width="1.25" fill="none"/>
<text transform="translate(377.6 286.7) scale(0.78 1)" font-size="11.3" text-anchor="end" font-family="'Liberation Sans', sans-serif" font-weight="bold" stroke="#111" stroke-width="0.22" fill="#111">0</text>
<text transform="translate(377.6 236.92) scale(0.78 1)" font-size="11.3" text-anchor="end" font-family="'Liberation Sans', sans-serif" font-weight="bold" stroke="#111" stroke-width="0.22" fill="#111">250</text>
<text transform="translate(377.6 187.14) scale(0.78 1)" font-size="11.3" text-anchor="end" font-family="'Liberation Sans', sans-serif" font-weight="bold" stroke="#111" stroke-width="0.22" fill="#111">500</text>
<text transform="translate(377.6 137.36) scale(0.78 1)" font-size="11.3" text-anchor="end" font-family="'Liberation Sans', sans-serif" font-weight="bold" stroke="#111" stroke-width="0.22" fill="#111">750</text>
<text transform="translate(377.6 87.58) scale(0.78 1)" font-size="11.3" text-anchor="end" font-family="'Liberation Sans', sans-serif" font-weight="bold" stroke="#111" stroke-width="0.22" fill="#111">1000</text>
<text transform="translate(377.6 37.8) scale(0.78 1)" font-size="11.3" text-anchor="end" font-family="'Liberation Sans', sans-serif" font-weight="bold" stroke="#111" stroke-width="0.22" fill="#111">1250</text>
<text transform="translate(385.5 302.4) scale(0.8 1)" font-size="11.3" text-anchor="middle" font-family="'Liberation Sans', sans-serif" font-weight="bold" stroke="#111" stroke-width="0.22" fill="#111">0</text>
<text transform="translate(419.64 302.4) scale(0.8 1)" font-size="11.3" text-anchor="middle" font-family="'Liberation Sans', sans-serif" font-weight="bold" stroke="#111" stroke-width="0.22" fill="#111">24</text>
<text transform="translate(453.77 302.4) scale(0.8 1)" font-size="11.3" text-anchor="middle" font-family="'Liberation Sans', sans-serif" font-weight="bold" stroke="#111" stroke-width="0.22" fill="#111">48</text>
<text transform="translate(487.91 302.4) scale(0.8 1)" font-size="11.3" text-anchor="middle" font-family="'Liberation Sans', sans-serif" font-weight="bold" stroke="#111" stroke-width="0.22" fill="#111">72</text>
<text transform="translate(522.05 302.4) scale(0.8 1)" font-size="11.3" text-anchor="middle" font-family="'Liberation Sans', sans-serif" font-weight="bold" stroke="#111" stroke-width="0.22" fill="#111">96</text>
<text transform="translate(556.19 302.4) scale(0.8 1)" font-size="11.3" text-anchor="middle" font-family="'Liberation Sans', sans-serif" font-weight="bold" stroke="#111" stroke-width="0.22" fill="#111">120</text>
<text transform="translate(590.33 302.4) scale(0.8 1)" font-size="11.3" text-anchor="middle" font-family="'Liberation Sans', sans-serif" font-weight="bold" stroke="#111" stroke-width="0.22" fill="#111">144</text>
<text transform="translate(624.46 302.4) scale(0.8 1)" font-size="11.3" text-anchor="middle" font-family="'Liberation Sans', sans-serif" font-weight="bold" stroke="#111" stroke-width="0.22" fill="#111">168</text>
<text transform="translate(658.6 302.4) scale(0.8 1)" font-size="11.3" text-anchor="middle" font-family="'Liberation Sans', sans-serif" font-weight="bold" stroke="#111" stroke-width="0.22" fill="#111">192</text>
<text transform="translate(522.3 325.4) scale(0.81 1)" font-size="12.4" text-anchor="middle" font-family="'Liberation Sans', sans-serif" font-weight="bold" stroke="#111" stroke-width="0.22" fill="#111">Time (h)</text>
<text transform="translate(353.4 143.3) rotate(-90) scale(1 0.85)" font-size="13.1" text-anchor="middle" font-family="'Liberation Sans', sans-serif" font-weight="bold" stroke="#111" stroke-width="0.22" fill="#111">DMP concentration (mg/l)</text>
<rect x="581.5" y="11.3" width="72.2" height="101.1" fill="#fff" stroke="#666" stroke-width="0.9"/>
<path d="M582.4 19.5H602.5" stroke="#333" stroke-width="1"/>
<rect x="589.7" y="16.62" width="5" height="5.75" fill="#000"/>
<text transform="translate(605.1 23) scale(0.87 1)" font-size="10" text-anchor="start" font-family="'Liberation Sans', sans-serif" font-weight="bold" stroke="#111" stroke-width="0.22" fill="#111">50 mg/l</text>
<path d="M582.4 33.67H602.5" stroke="#333" stroke-width="1"/>
<ellipse cx="592.2" cy="33.67" rx="2.9" ry="3.33" fill="#000"/>
<text transform="translate(605.1 37.17) scale(0.87 1)" font-size="10" text-anchor="start" font-family="'Liberation Sans', sans-serif" font-weight="bold" stroke="#111" stroke-width="0.22" fill="#111">100 mg/l</text>
<path d="M582.4 47.84H602.5" stroke="#333" stroke-width="1"/>
<polygon points="592.2,43.7 595.5,50.83 588.9,50.83" fill="#000"/>
<text transform="translate(605.1 51.34) scale(0.87 1)" font-size="10" text-anchor="start" font-family="'Liberation Sans', sans-serif" font-weight="bold" stroke="#111" stroke-width="0.22" fill="#111">289.19 mg/l</text>
<path d="M582.4 62.01H602.5" stroke="#333" stroke-width="1"/>
<polygon points="592.2,66.15 595.5,59.02 588.9,59.02" fill="#000"/>
<text transform="translate(605.1 65.51) scale(0.87 1)" font-size="10" text-anchor="start" font-family="'Liberation Sans', sans-serif" font-weight="bold" stroke="#111" stroke-width="0.22" fill="#111">500 mg/l</text>
<path d="M582.4 76.18H602.5" stroke="#333" stroke-width="1"/>
<polygon points="592.2,71.67 595.49,76.18 592.2,80.69 588.91,76.18" fill="#000"/>
<text transform="translate(605.1 79.68) scale(0.87 1)" font-size="10" text-anchor="start" font-family="'Liberation Sans', sans-serif" font-weight="bold" stroke="#111" stroke-width="0.22" fill="#111">750 mg/l</text>
<path d="M582.4 90.35H602.5" stroke="#333" stroke-width="1"/>
<polygon points="589.22,90.35 594.35,86.74 594.35,93.96" fill="#000"/>
<text transform="translate(605.1 93.85) scale(0.87 1)" font-size="10" text-anchor="start" font-family="'Liberation Sans', sans-serif" font-weight="bold" stroke="#111" stroke-width="0.22" fill="#111">1000 mg/l</text>
<path d="M582.4 104.52H602.5" stroke="#333" stroke-width="1"/>
<polygon points="595.18,104.52 590.05,100.91 590.05,108.13" fill="#000"/>
<text transform="translate(605.1 108.02) scale(0.87 1)" font-size="10" text-anchor="start" font-family="'Liberation Sans', sans-serif" font-weight="bold" stroke="#111" stroke-width="0.22" fill="#111">1250 mg/l</text>
<text x="179.7" y="348.6" font-size="13.8" text-anchor="middle" font-family="'Liberation Serif', serif" font-weight="bold" fill="#111" stroke="#111" stroke-width="0.3">(A)</text>
<text x="522.7" y="348.6" font-size="13.8" text-anchor="middle" font-family="'Liberation Serif', serif" font-weight="bold" fill="#111" stroke="#111" stroke-width="0.3">(B)</text>
</svg>
</body></html>
